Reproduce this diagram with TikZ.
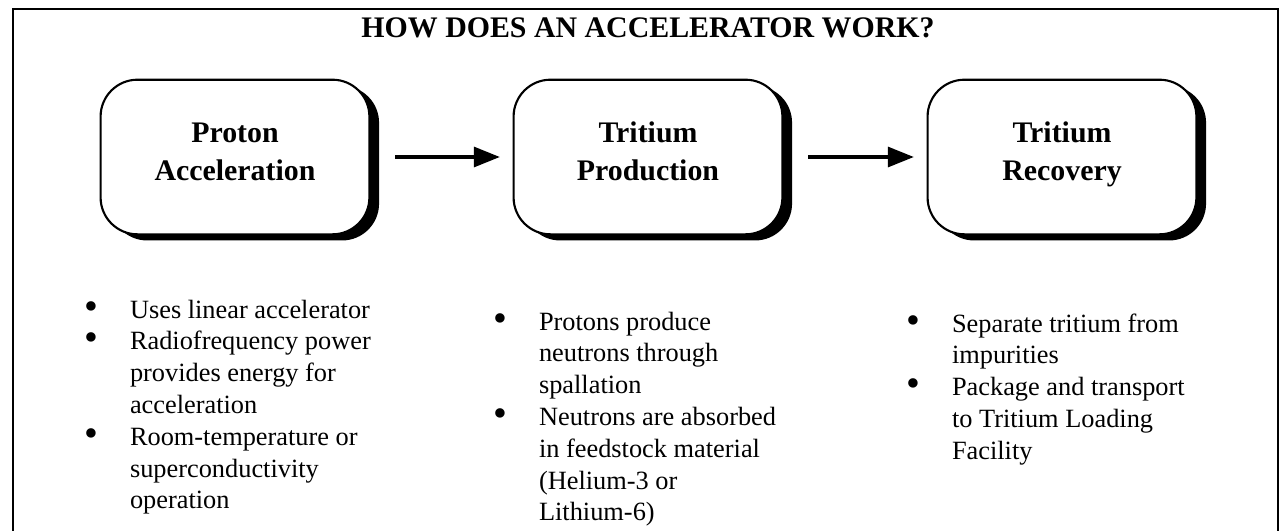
\documentclass[tikz,border=0pt]{standalone}
\usepackage{fontspec}
\setmainfont{Liberation Serif}
\usetikzlibrary{arrows.meta,shadows}

\tikzset{
	stage/.style={draw, fill=white, line width=1.2pt, rounded corners=21pt,
		minimum width=153pt, minimum height=88pt, align=center,
		font=\fontsize{17}{21.5}\selectfont\bfseries,
		execute at end node=\strut,
		drop shadow={shadow xshift=5.5pt, shadow yshift=-3.5pt, fill=black, opacity=1}},
	flow/.style={line width=2.8pt, -{Triangle[length=15pt,width=11pt]},
		shorten <=14pt, shorten >=7pt},
	notes/.style={anchor=base west, inner sep=0pt, font=\fontsize{15}{18.1}\selectfont},
}
\newcommand{\bulletcol}[1]{\begin{tabular}[t]{@{}p{26pt}@{}l@{}}#1\end{tabular}}
\newcommand{\bdot}{\raisebox{-0.6pt}{\scalebox{1.5}{\textbullet}}}

\begin{document}
\begin{tikzpicture}[x=0.02cm, y=-0.02cm]

	\useasboundingbox (0,0) rectangle (1286,531);

	% frame
	\coordinate (FL) at (13,531);
	\coordinate (FT) at (13,9);
	\coordinate (FR) at (1278,9);
	\coordinate (FB) at (1278,531);
	\draw[line width=1.1pt] (FL) -- (FT) -- (FR) -- (FB);

	% title
	\node[font=\fontsize{17}{20}\selectfont\bfseries] (title) at (648,28)
		{HOW DOES AN ACCELERATOR WORK?};

	% stages
	\node[stage] (proton)   at (235,157) {Proton\\Acceleration};
	\node[stage] (prod)     at (648,157) {Tritium\\Production};
	\node[stage] (recovery) at (1062,157) {Tritium\\Recovery};

	\draw[flow] (proton) -- (prod);
	\draw[flow] (prod) -- (recovery);

	% bullet notes
	\node[notes] (notesA) at (84,318) {\bulletcol{
		\bdot & Uses linear accelerator\\
		\bdot & Radiofrequency power\\
		& provides energy for\\
		& acceleration\\
		\bdot & Room-temperature or\\
		& superconductivity\\
		& operation}};
	\node[notes] (notesB) at (493,330) {\bulletcol{
		\bdot & Protons produce\\
		& neutrons through\\
		& spallation\\
		\bdot & Neutrons are absorbed\\
		& in feedstock material\\
		& (Helium-3 or\\
		& Lithium-6)}};
	\node[notes] (notesC) at (906,332) {\bulletcol{
		\bdot & Separate tritium from\\
		& impurities\\
		\bdot & Package and transport\\
		& to Tritium Loading\\
		& Facility}};

\end{tikzpicture}
\end{document}
